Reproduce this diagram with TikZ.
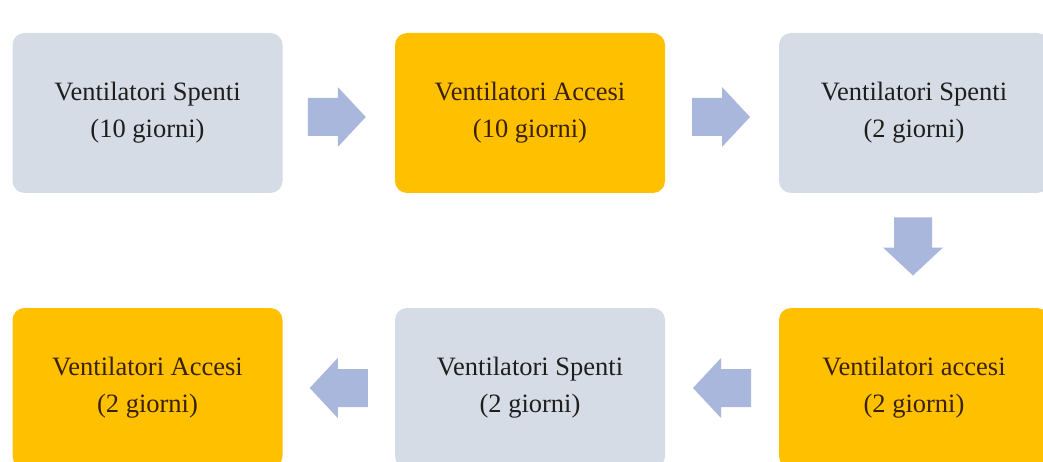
\documentclass[tikz,border=0pt]{standalone}
\usepackage{fontspec}
\setmainfont{Liberation Serif}
\usetikzlibrary{calc}
\definecolor{boxgrey}{HTML}{D6DCE5}
\definecolor{boxorange}{HTML}{FFC000}
\definecolor{arrowblue}{HTML}{A9B7DC}
\definecolor{txt}{HTML}{1E1E1E}
\definecolor{txtor}{HTML}{3A2200}
\tikzset{
  box/.style={rounded corners=12pt, minimum width=270pt, minimum height=160pt, inner sep=0pt, align=center, font=\fontsize{26.5}{37}\selectfont},
  greybox/.style={box, fill=boxgrey, text=txt},
  orangebox/.style={box, fill=boxorange, text=txtor},
  blockarrow/.style={fill=arrowblue}
}
\newcommand{\barrow}[2]{% center, rotation
  \fill[blockarrow, shift={(#1)}, rotate=#2] (-29,-19) -- (1,-19) -- (1,-30) -- (29,0) -- (1,30) -- (1,19) -- (-29,19) -- cycle;}
\begin{document}
\begin{tikzpicture}[x=1pt,y=1pt]
\useasboundingbox (0,0) rectangle (1043,461);
\begin{scope}
\clip (0,0) rectangle (1043,461);
\node[greybox]   (b1) at (147.5,348) {Ventilatori Spenti\\(10 giorni)};
\node[orangebox] (b2) at (530,348)   {Ventilatori Accesi\\(10 giorni)};
\node[greybox]   (b3) at (914,348)   {Ventilatori Spenti\\(2 giorni)};
\node[orangebox] (b4) at (914,73)    {Ventilatori accesi\\(2 giorni)};
\node[greybox]   (b5) at (530,73)    {Ventilatori Spenti\\(2 giorni)};
\node[orangebox] (b6) at (147.5,73)  {Ventilatori Accesi\\(2 giorni)};
\end{scope}
\coordinate (a1) at ($($(b1.east)!0.5!(b2.west)$)+(-2,-4)$);
\coordinate (a2) at ($($(b2.east)!0.5!(b3.west)$)+(-1,-4)$);
\coordinate (a3) at ($($(b3.south)!0.5!(b4.north)$)+(-1,4)$);
\coordinate (a4) at ($(b4.west)!0.5!(b5.east)$);
\coordinate (a5) at ($(b5.west)!0.5!(b6.east)$);
\barrow{a1}{0}
\barrow{a2}{0}
\barrow{a3}{-90}
\barrow{a4}{180}
\barrow{a5}{180}
\end{tikzpicture}
\end{document}
